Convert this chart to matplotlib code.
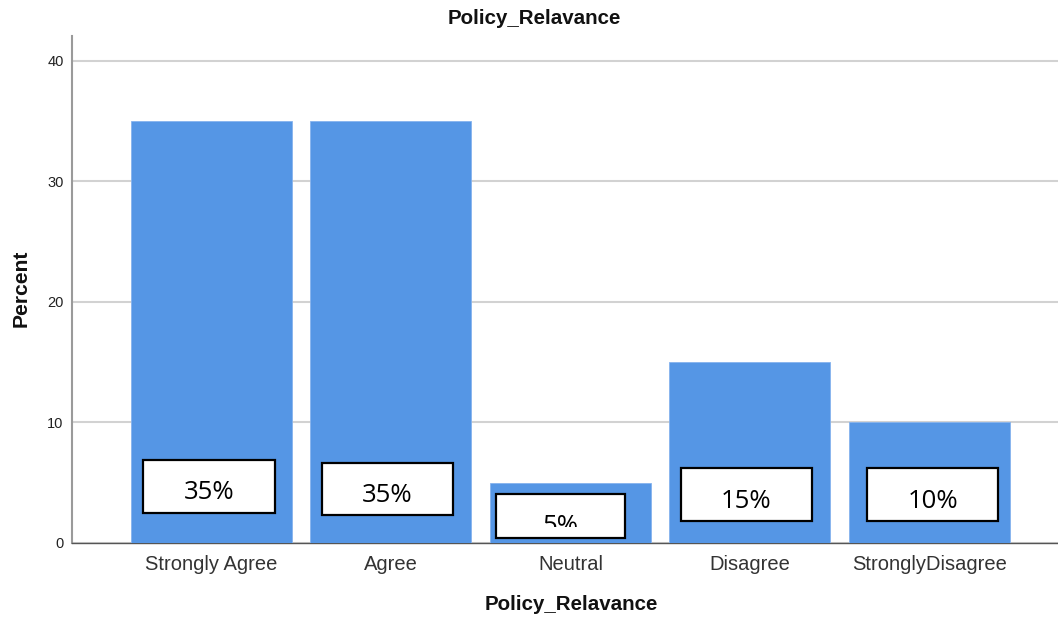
import matplotlib
matplotlib.use("Agg")
import matplotlib.pyplot as plt
from matplotlib.patches import Rectangle

# Survey responses for the "Policy_Relavance" item
categories = ["Strongly Agree", "Agree", "Neutral", "Disagree", "StronglyDisagree"]
percents = [35, 35, 5, 15, 10]
y_ticks = [0, 10, 20, 30, 40]

# Callout boxes, per bar: (left offset, right offset, bottom, top) in data units
box_geom = [
    (-0.382, 0.354, 2.49, 6.89),
    (-0.383, 0.343, 2.32, 6.64),
    (-0.415, 0.304, 0.41, 4.07),
    (-0.387, 0.348, 1.83, 6.22),
    (-0.347, 0.382, 1.83, 6.22),
]

W, H = 1058, 617
fig = plt.figure(figsize=(W / 100, H / 100), dpi=100)
ax = fig.add_axes([72 / W, (H - 543) / H, (1058 - 72) / W, (543 - 36) / H])

bar_color = "#5596e5"
x = list(range(len(categories)))
ax.bar(x, percents, width=0.897, color=bar_color, edgecolor="#86b3ee",
       linewidth=0.6, zorder=3)

ax.set_xlim(-0.777, 4.716)
ax.set_ylim(0, 42.07)
ax.set_yticks(y_ticks)
ax.set_yticklabels([str(t) for t in y_ticks])
ax.set_xticks(x)
ax.set_xticklabels(categories)

ax.grid(axis="y", color="#d2d2d2", linewidth=1.5, zorder=1)
ax.set_axisbelow(True)

for s in ["top", "right"]:
    ax.spines[s].set_visible(False)
ax.spines["left"].set_color("#9a9a9a")
ax.spines["left"].set_linewidth(1.5)
ax.spines["bottom"].set_color("#555555")
ax.spines["bottom"].set_linewidth(1.0)

ax.tick_params(axis="y", length=0, pad=6, labelsize=10.5, labelcolor="#222222")
ax.tick_params(axis="x", length=0, pad=8.5, labelsize=14.5, labelcolor="#333333")
for lbl in ax.get_xticklabels() + ax.get_yticklabels():
    lbl.set_family("Liberation Sans")

# Value callouts: white boxes with black frames; the lower strip of each box
# is masked so text running past it is cut off
px_per_unit = (543 - 61) / 40.0
strip = 11 / px_per_unit
for i, (v, (l, r, b, t)) in enumerate(zip(percents, box_geom)):
    ax.add_patch(Rectangle((i + l, b), r - l, t - b, facecolor="white",
                           edgecolor="none", zorder=5))
    baseline = t - 39.5 / px_per_unit
    ax.text(i + (l + r) / 2, baseline, f"{v}%", ha="center",
            va="baseline", fontsize=18.5, family="Open Sans",
            color="black", zorder=6)
    ax.add_patch(Rectangle((i + l, b), r - l, strip, facecolor="white",
                           edgecolor="none", zorder=7))
    ax.add_patch(Rectangle((i + l, b), r - l, t - b, facecolor="none",
                           edgecolor="black", linewidth=1.6, zorder=8))

fig.text(534 / W, 1 - 19 / H, "Policy_Relavance", ha="center", va="center",
         fontsize=14.8, fontweight="bold", family="Liberation Sans",
         color="#111111")
fig.text(571 / W, 1 - 604 / H, "Policy_Relavance", ha="center", va="center",
         fontsize=14.8, fontweight="bold", family="Liberation Sans",
         color="#111111")
fig.text(21 / W, 1 - 288 / H, "Percent", ha="center", va="center",
         rotation=90, fontsize=15.2, fontweight="bold",
         family="Liberation Sans", color="#111111")

fig.savefig("out.png", dpi=100)
